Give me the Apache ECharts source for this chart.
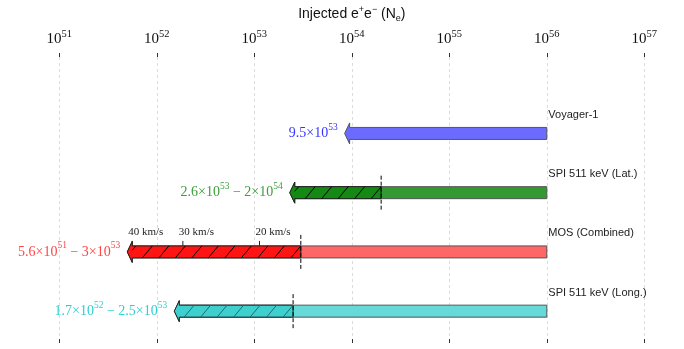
<!DOCTYPE html>
<html>
<head>
<meta charset="utf-8">
<script src="https://cdn.jsdelivr.net/npm/echarts@6/dist/echarts.min.js"></script>
<style>
  html, body { margin: 0; padding: 0; background: #fff; }
  #chart { width: 684px; height: 349px; }
</style>
</head>
<body>
<div id="chart"></div>
<script>
// rows, top to bottom
const rowNames = ['Voyager-1', 'SPI 511 keV (Lat.)', 'MOS (Combined)', 'SPI 511 keV (Long.)'];
const lowerVals = [9.5e53, 2.6e53, 5.6e51, 1.7e52];   // arrow tip
const upperVals = [null, 2e54, 3e53, 2.5e53];         // dashed line / end of hatch
const startVal = 1e56;                                 // every arrow starts here
// velocity marks on the MOS row
const kmsLabels = ['40 km/s', '30 km/s', '20 km/s'];
const kmsVals = [5.6e51, 1.85e52, 1.13e53];
const kmsRow = 2;

const darkColors = ['#6b6bff', '#148a14', '#ff1414', '#3ecfcf'];
const lightColors = ['#6b6bff', '#339933', '#ff6666', '#66d9d9'];
const labelColors = ['#3434ff', '#3a9e3a', '#ff4444', '#2cd0d0'];
const hatchColors = ['#000', '#000', '#000', '#1f6f6f'];

const SERIF = '"Liberation Serif", "DejaVu Serif", serif';
const SANS = '"Liberation Sans", "DejaVu Sans", sans-serif';

function sciLabel(v) {
    let e = Math.floor(Math.log10(v) + 1e-9);
    let m = (v / Math.pow(10, e)).toFixed(1).replace(/\.0$/, '');
    return '{m|' + m + '×10}{e|' + e + '}';
}

const valueRich = {
    m: { fontFamily: SERIF, fontSize: 14, lineHeight: 18, verticalAlign: 'bottom' },
    e: { fontFamily: SERIF, fontSize: 9.5, lineHeight: 10, verticalAlign: 'top' },
    d: { fontFamily: SERIF, fontSize: 14, lineHeight: 18, verticalAlign: 'bottom' }
};

// "/" hatch lines between xa and xb, clipped to the bar
function hatchLines(xa, xb, y, bh, color) {
    let out = [];
    let step = 16.5, run = 10;
    for (let xs = xb - run; xs > xa - run; xs -= step) {
        // segment from (xs, y+bh) up to (xs+run, y-bh)
        let t0 = Math.max(0, (xa - xs) / run), t1 = Math.min(1, (xb - xs) / run);
        if (t1 <= t0) continue;
        out.push({
            type: 'line',
            shape: { x1: xs + run * t0, y1: y + bh - 2 * bh * t0, x2: xs + run * t1, y2: y + bh - 2 * bh * t1 },
            style: { stroke: color, lineWidth: 1 }
        });
    }
    return out;
}

function renderArrow(params, api) {
    let i = params.dataIndex;
    let row = api.value(1);
    let pLo = api.coord([lowerVals[i], row]);
    let pEnd = api.coord([startVal, row]);
    let y = pLo[1], x0 = pLo[0], x1 = pEnd[0];
    let bh = 6, hh = 10.5, hl = 5;
    let pts = xr => [[x0 - hl, y], [x0, y - hh], [x0, y - bh], [xr, y - bh], [xr, y + bh], [x0, y + bh], [x0, y + hh]];
    let children = [];
    children.push({
        type: 'polygon', shape: { points: pts(x1) },
        style: { fill: lightColors[i], stroke: '#555', lineWidth: 1 }
    });
    let text = sciLabel(lowerVals[i]);
    if (upperVals[i] != null) {
        let xd = api.coord([upperVals[i], row])[0];
        children.push({
            type: 'polygon', shape: { points: pts(xd) },
            style: { fill: darkColors[i], stroke: '#222', lineWidth: 1 }
        });
        children = children.concat(hatchLines(x0, xd, y, bh, hatchColors[i]));
        children.push({
            type: 'line', shape: { x1: xd, y1: y - 17, x2: xd, y2: y + 17 },
            style: { stroke: '#000', lineWidth: 1, lineDash: [4, 2] }
        });
        text += '{d| − }' + sciLabel(upperVals[i]);
    }
    children.push({
        type: 'text',
        style: {
            text: text, x: x0 - 12, y: y - 2, align: 'right', verticalAlign: 'middle',
            fill: labelColors[i], rich: valueRich
        }
    });
    children.push({
        type: 'text',
        style: {
            text: rowNames[i], x: x1 + 1.5, y: y - 18.5, align: 'left', verticalAlign: 'middle',
            fill: '#222', font: '11px ' + SANS
        }
    });
    return { type: 'group', children: children };
}

function renderKms(params, api) {
    let p = api.coord([api.value(0), api.value(1)]);
    return {
        type: 'group',
        children: [
            { type: 'line', shape: { x1: p[0], y1: p[1] - 6, x2: p[0], y2: p[1] - 11 }, style: { stroke: '#222', lineWidth: 1 } },
            {
                type: 'text',
                style: {
                    text: kmsLabels[params.dataIndex], x: p[0] - 4, y: p[1] - 19.5, align: 'left', verticalAlign: 'middle',
                    fill: '#222', font: '11px ' + SERIF
                }
            }
        ]
    };
}

let myChart = echarts.init(document.getElementById('chart'), null, { renderer: 'canvas' });

let xCommon = {
    type: 'log', logBase: 10, min: 1e51, max: 1e57,
    axisLine: { show: false, onZero: false },
    axisTick: { show: true, inside: false, length: 4, lineStyle: { color: '#333' } }
};

let option = {
    animation: false,
    grid: { left: 59.3, right: 39.7, top: 55, bottom: 10 },
    xAxis: [
        Object.assign({}, xCommon, {
            position: 'top',
            name: 'Injected e{sup|+}e{sup|−} (N{sub|e})',
            nameLocation: 'middle',
            nameGap: 43,
            nameTextStyle: {
                fontFamily: SANS, fontSize: 14, color: '#111', lineHeight: 18, verticalAlign: 'middle',
                rich: {
                    sup: { fontFamily: SANS, fontSize: 9, lineHeight: 10, verticalAlign: 'top', color: '#111' },
                    sub: { fontFamily: SANS, fontSize: 9, lineHeight: 8, verticalAlign: 'bottom', color: '#111' }
                }
            },
            axisLabel: {
                margin: 10,
                formatter: v => '{b|10}{s|' + Math.round(Math.log10(v)) + '}',
                rich: {
                    b: { fontFamily: SERIF, fontSize: 15, lineHeight: 18, color: '#111', verticalAlign: 'bottom' },
                    s: { fontFamily: SERIF, fontSize: 10.5, lineHeight: 11, color: '#111', verticalAlign: 'top' }
                }
            },
            splitLine: { show: true, lineStyle: { color: '#dcdcdc', type: [3, 3], width: 1 } }
        }),
        Object.assign({}, xCommon, {
            position: 'bottom',
            axisLabel: { show: false },
            splitLine: { show: false }
        })
    ],
    yAxis: {
        type: 'value', inverse: true, min: -1.29, max: 3.47,
        show: false
    },
    series: [
        {
            type: 'custom',
            renderItem: renderKms,
            data: kmsVals.map(v => [v, kmsRow]),
            z: 1
        },
        {
            type: 'custom',
            renderItem: renderArrow,
            data: rowNames.map((n, i) => [lowerVals[i], i]),
            z: 2
        }
    ]
};
myChart.setOption(option);
</script>
</body>
</html>
